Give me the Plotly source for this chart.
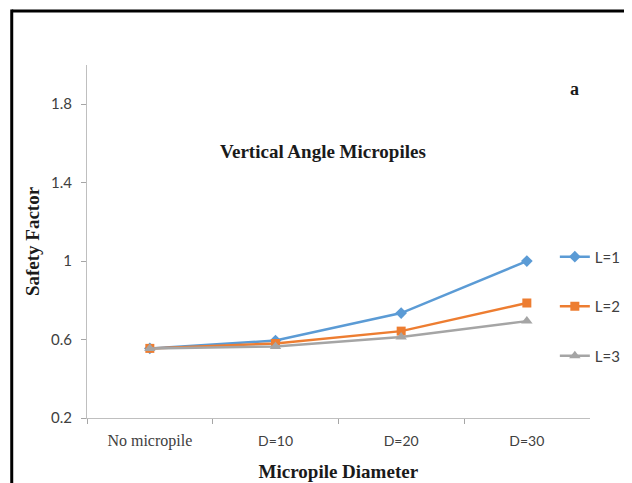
import plotly.graph_objects as go

categories = ["No micropile", "D=10", "D=20", "D=30"]
tick_labels = ["<span style='font-family:Liberation Serif;font-size:16px'>No micropile</span>", "D=10", "D=20", "D=30"]
series_names = ["L=1", "L=2", "L=3"]
L1 = [0.555, 0.595, 0.735, 1.0]
L2 = [0.555, 0.58, 0.643, 0.786]
L3 = [0.555, 0.565, 0.613, 0.694]
y_ticks = [0.2, 0.6, 1.0, 1.4, 1.8]
y_tick_text = ["0.2", "0.6", "1", "1.4", "1.8"]

colors = ["#5B9BD5", "#ED7D31", "#A5A5A5"]
symbols = ["diamond", "square", "triangle-up"]
sizes = [9, 9, 10]

fig = go.Figure()
for i, (name, vals) in enumerate(zip(series_names, [L1, L2, L3])):
    fig.add_trace(go.Scatter(
        x=categories, y=vals, name=name, mode="lines+markers",
        legendgroup=name,
        line=dict(color=colors[i], width=2.5),
        marker=dict(symbol=symbols[i], size=sizes[i], color=colors[i]),
    ))

serif = "Liberation Serif"
sans = "Lato"

fig.update_layout(
    width=632, height=483,
    margin=dict(l=79, r=0, t=57, b=73),
    paper_bgcolor="white", plot_bgcolor="white",
    showlegend=True,
    legend=dict(x=0.846, y=0.503, xanchor="left", yanchor="top",
                font=dict(family=sans, size=15, color="#404040"),
                tracegroupgap=27, itemwidth=30, bgcolor="rgba(0,0,0,0)"),
    xaxis=dict(type="category", tickson="boundaries", ticks="outside", ticklen=5,
               domain=[0, 0.909],
               tickcolor="#A6A6A6", showline=True, linecolor="#BFBFBF", linewidth=1,
               showgrid=False, tickvals=categories, ticktext=tick_labels,
               tickfont=dict(family=sans, size=14, color="#404040"),
               ticklabelstandoff=10,
               range=[-0.5, 3.5],
               title=dict(text="<b>Micropile Diameter</b>", font=dict(family=serif, size=19, color="#1a1a1a"), standoff=15)),
    yaxis=dict(range=[0.2, 2.0], tickvals=y_ticks, ticktext=y_tick_text,
               ticks="outside", ticklen=5, tickcolor="#A6A6A6",
               showline=True, linecolor="#BFBFBF", linewidth=1, showgrid=False, zeroline=False,
               tickfont=dict(family=sans, size=15, color="#404040"),
               ticklabelstandoff=6,
               title=dict(text="<b>Safety Factor</b>", font=dict(family=serif, size=19, color="#1a1a1a"), standoff=6)),
    annotations=[
        dict(text="<b>Vertical Angle Micropiles</b>", x=0.427, y=0.754, xref="paper", yref="paper",
             xanchor="center", yanchor="middle",
             showarrow=False, font=dict(family=serif, size=19, color="#1a1a1a")),
        dict(text="<b>a</b>", x=0.882, y=0.932, xref="paper", yref="paper",
             xanchor="center", yanchor="middle",
             showarrow=False, font=dict(family=serif, size=18, color="#1a1a1a")),
    ],
    shapes=[
        dict(type="line", xref="paper", yref="paper", x0=-0.1361, x1=1.1, y0=1.153, y1=1.153,
             line=dict(color="black", width=3)),
        dict(type="line", xref="paper", yref="paper", x0=-0.1361, x1=-0.1361, y0=1.157, y1=-0.25,
             line=dict(color="black", width=3)),
    ],
)

fig.write_html("out.html")
